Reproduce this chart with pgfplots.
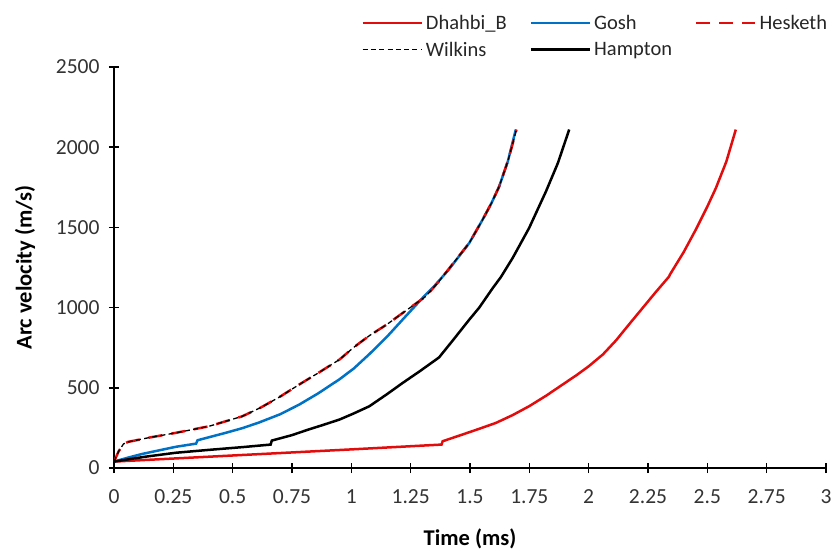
\documentclass[border=0pt]{standalone}
\usepackage{fontspec}
\setmainfont{Carlito}
\usepackage{pgfplots}
\pgfplotsset{compat=1.18}
\definecolor{exred}{RGB}{226,12,12}
\definecolor{exblue}{RGB}{0,114,198}
\begin{document}
\begin{tikzpicture}
\useasboundingbox (-114pt,-83pt) rectangle (718pt,468pt);
\begin{axis}[
  anchor=south west, at={(0pt,0pt)},
  scale only axis, width=712pt, height=401pt,
  xmin=0, xmax=3, ymin=0, ymax=2500,
  axis x line*=bottom, axis y line*=left,
  axis line style={line width=1.6pt, -},
  xtick={0,0.25,0.5,0.75,1,1.25,1.5,1.75,2,2.25,2.5,2.75,3},
  xticklabels={0,0.25,0.5,0.75,1,1.25,1.5,1.75,2,2.25,2.5,2.75,3},
  ytick={0,500,1000,1500,2000,2500},
  yticklabels={0,500,1000,1500,2000,2500},
  tick align=center, major tick length=10pt,
  tick style={line width=1.6pt, black},
  ticklabel style={font=\fontsize{21.5}{25}\selectfont, text=black!80},
  xticklabel style={yshift=-13pt},
  yticklabel style={xshift=-6pt},
  xlabel={\textbf{Time (ms)}}, ylabel={\textbf{Arc velocity (m/s)}},
  label style={font=\fontsize{22.5}{26}\selectfont, text=black},
  x label style={at={(axis description cs:0.5,-0.177)}, anchor=center},
  y label style={at={(axis description cs:-0.125,0.5)}, anchor=center},
  legend columns=3,
  legend cell align=left,
  legend image code/.code={\draw[#1] (0pt,0pt) -- (59pt,0pt);},
  legend style={draw=none, fill=none, at={(axis description cs:0.343,1.14)}, anchor=north west,
    font=\fontsize{20.5}{24}\selectfont, text=black!85, row sep=7pt,
    nodes={inner xsep=3pt},
    /tikz/every even column/.append style={column sep=20pt}},
]
\addplot[exred, line width=2.5pt] coordinates {
(0,40) (0.5,78) (1.0,116) (1.38,146) (1.385,167) (1.469,209) (1.54,245) (1.609,281) (1.68,330)
(1.749,385) (1.82,450) (1.89,520) (1.95,580) (2.0,634) (2.06,708) (2.115,795) (2.17,895) (2.227,997)
(2.28,1092) (2.339,1194) (2.342,1205) (2.40,1345) (2.451,1485) (2.50,1630) (2.536,1745)
(2.58,1910) (2.62,2110)};
\addlegendentry{Dhahbi\_B}
\addplot[exblue, line width=2.5pt] coordinates {
(0,40) (0.06,65) (0.12,88) (0.26,132) (0.346,152) (0.352,173) (0.47,219) (0.54,248) (0.61,283) (0.70,335)
(0.78,395) (0.86,465) (0.95,553) (1.01,620) (1.076,710) (1.15,818) (1.216,925) (1.30,1060) (1.35,1135)
(1.41,1236) (1.497,1403) (1.553,1548) (1.59,1650) (1.623,1755) (1.66,1915) (1.693,2110)};
\addlegendentry{Gosh}
\addplot[exred, line width=2.5pt, dash pattern=on 14pt off 9pt] coordinates {
(0,40) (0.02,105) (0.04,150) (0.06,163) (0.09,172) (0.15,190) (0.26,219) (0.40,260) (0.54,322) (0.62,378)
(0.70,445) (0.78,520) (0.86,592) (0.95,676) (1.01,752) (1.076,825) (1.15,895) (1.216,966) (1.314,1070)
(1.37,1165) (1.441,1298) (1.497,1403) (1.553,1548) (1.59,1650) (1.623,1755) (1.66,1915) (1.696,2110)};
\addlegendentry{Hesketh}
\addplot[black, line width=1.3pt, dash pattern=on 5pt off 3.3pt] coordinates {
(0,40) (0.02,105) (0.04,150) (0.06,163) (0.09,172) (0.15,190) (0.26,219) (0.40,260) (0.54,322) (0.62,378)
(0.70,445) (0.78,520) (0.86,592) (0.95,676) (1.01,752) (1.076,825) (1.15,895) (1.216,966) (1.314,1070)
(1.37,1165) (1.441,1298) (1.497,1403) (1.553,1548) (1.59,1650) (1.623,1755) (1.66,1915) (1.696,2110)};
\addlegendentry{Wilkins}
\addplot[black, line width=2.5pt] coordinates {
(0,40) (0.13,70) (0.26,95) (0.40,113) (0.54,130) (0.66,146) (0.665,171) (0.75,205) (0.82,240)
(0.88,268) (0.95,302) (1.01,340) (1.076,385) (1.15,460) (1.216,530) (1.29,605) (1.357,676) (1.37,690) (1.43,800)
(1.497,925) (1.539,1000) (1.595,1120) (1.630,1190) (1.68,1310) (1.749,1496) (1.82,1724)
(1.87,1900) (1.918,2110)};
\addlegendentry{Hampton}
\end{axis}
\end{tikzpicture}
\end{document}
